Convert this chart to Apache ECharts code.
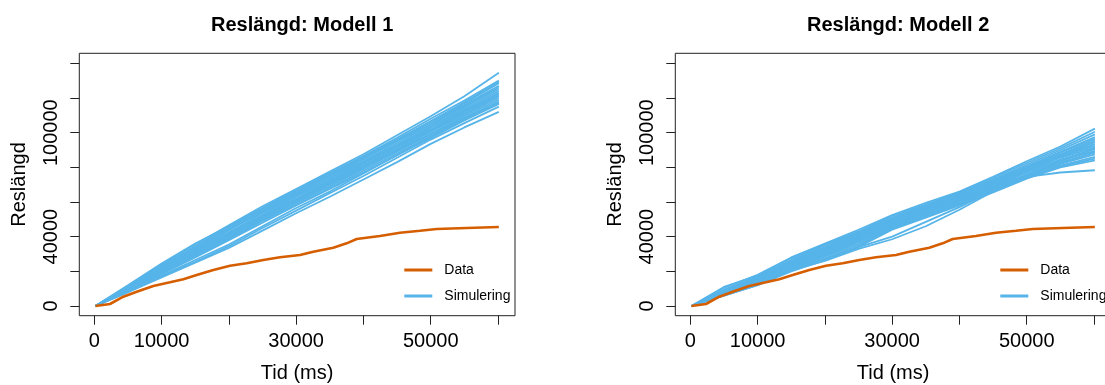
<!DOCTYPE html>
<html>
<head>
<meta charset="utf-8">
<script src="https://cdn.jsdelivr.net/npm/echarts@6/dist/echarts.min.js"></script>
<style>
  html, body { margin: 0; padding: 0; background: #fff; }
  #container { width: 1105px; height: 385px; }
</style>
</head>
<body>
<div id="container"></div>
<script>
// Tid (ms) for the simulated runs
var tid = [170, 5000, 10000, 15000, 20000, 25000, 30000, 35000, 40000, 45000, 50000, 55000, 60130];

// observed data (same in both panels)
var dataTid = [170, 2330, 4310, 6300, 8770, 11250, 13230, 15220, 17690, 20170, 22650, 25120,
  27600, 30570, 32550, 35520, 37510, 39000, 42460, 45440, 48410, 50890, 55350, 60130];
var dataResl = [0, 1150, 5360, 8250, 11540, 13670, 15400, 17880, 20770, 23250, 24630, 26540,
  28090, 29420, 31340, 33650, 36150, 38650, 40380, 42290, 43440, 44420, 44990, 45570];

// Modell 1 simulations
var simModell1 = [
  [0, 11500, 24000, 35500, 46500, 57500, 67500, 77500, 87500, 98500, 109500, 121000, 134500],
  [0, 12000, 24500, 36000, 46000, 56500, 67000, 76500, 86500, 97000, 108000, 118500, 130000],
  [0, 11000, 23000, 34500, 45500, 56000, 66000, 76000, 86000, 96000, 106500, 117000, 128500],
  [0, 10500, 22500, 33500, 44000, 54500, 65000, 75500, 85000, 95500, 106000, 116000, 127000],
  [0, 11000, 22000, 32500, 43500, 55000, 64500, 74000, 84500, 95000, 105000, 115500, 126000],
  [0, 10000, 21500, 33000, 44500, 54000, 64000, 73500, 83500, 94000, 104500, 115000, 125000],
  [0, 10500, 21000, 32000, 42500, 53500, 63500, 74000, 83000, 93000, 103500, 114000, 124000],
  [0, 9500, 20500, 31500, 42000, 52500, 63000, 72500, 82500, 92500, 103000, 113000, 123000],
  [0, 10000, 21000, 31000, 41500, 52000, 62000, 72000, 82000, 92500, 102000, 112500, 122500],
  [0, 9500, 20000, 31000, 41000, 51500, 61500, 71500, 81000, 91500, 101500, 112000, 121500],
  [0, 10000, 20500, 30500, 40500, 51000, 61000, 71000, 80500, 90500, 101000, 111000, 121000],
  [0, 9000, 19500, 30000, 40000, 50500, 60500, 70500, 80500, 90000, 100500, 110500, 120000],
  [0, 9500, 19500, 29500, 39500, 50000, 60000, 70000, 79500, 89500, 99500, 109500, 119000],
  [0, 9000, 19000, 29000, 39000, 49500, 59500, 69000, 79000, 89000, 99000, 108500, 118000],
  [0, 9000, 18500, 28500, 38500, 49000, 58500, 68000, 78000, 88000, 98000, 108000, 117500],
  [0, 8500, 18500, 28000, 38000, 48000, 58000, 67500, 77000, 87000, 97000, 107000, 116500],
  [0, 8500, 17500, 26500, 35500, 46000, 56500, 66000, 76500, 87000, 97500, 107500, 117000],
  [0, 8000, 17000, 25500, 34500, 45000, 55000, 65000, 75000, 85500, 96000, 105500, 115000],
  [0, 8000, 16500, 25000, 33500, 43500, 53500, 63000, 73000, 83000, 93500, 103000, 112000],
  [0, 11500, 23000, 34000, 45000, 55000, 65500, 75000, 85000, 95500, 106500, 117500, 129000]
];

// Modell 2 simulations
var simModell2 = [
  [0, 10500, 18000, 28000, 36000, 44000, 52500, 59500, 66000, 74500, 83500, 92000, 102300],
  [0, 11000, 17500, 27500, 35500, 43000, 52000, 58500, 65500, 74000, 82500, 91000, 100500],
  [0, 9500, 17000, 26500, 35000, 42500, 51000, 58000, 65000, 73000, 81500, 90000, 99000],
  [0, 9000, 16500, 26000, 34000, 42000, 50500, 57500, 64500, 72500, 80500, 89000, 97500],
  [0, 8500, 16000, 25500, 33500, 41500, 50000, 57000, 64000, 72000, 80000, 88500, 96500],
  [0, 9000, 16000, 25000, 33000, 41000, 49500, 56500, 63500, 71500, 79500, 87500, 95500],
  [0, 8000, 15500, 24500, 32500, 40500, 49000, 56000, 63000, 71000, 79000, 87000, 94500],
  [0, 8500, 15000, 24000, 32000, 40000, 48500, 55500, 62500, 70500, 78500, 86500, 93500],
  [0, 7500, 15000, 23500, 31500, 39500, 48000, 55000, 62000, 70000, 78000, 86000, 92500],
  [0, 8000, 14500, 23000, 31000, 39000, 47500, 54500, 61500, 69500, 77500, 85500, 91500],
  [0, 7000, 14000, 22500, 30500, 38500, 47000, 54000, 61000, 69000, 77000, 84500, 90500],
  [0, 7500, 14000, 22000, 30000, 38000, 46500, 53500, 60500, 68500, 76000, 84000, 89500],
  [0, 7000, 13500, 22000, 29500, 37500, 46000, 53000, 60000, 68000, 75500, 83000, 88500],
  [0, 6500, 13000, 21500, 29000, 37000, 45500, 52500, 59500, 67000, 75000, 82000, 87500],
  [0, 6500, 12500, 21000, 28500, 36000, 45000, 52000, 59000, 66500, 74500, 81000, 86000],
  [0, 6000, 12000, 20500, 27500, 35000, 44500, 51500, 58500, 66000, 74000, 80500, 85000],
  [0, 6000, 12000, 20000, 26500, 34000, 44000, 51000, 58000, 65500, 73500, 80000, 84000],
  [0, 6500, 12500, 20500, 26000, 33000, 38500, 46000, 55500, 66000, 75000, 82000, 89000],
  [0, 7000, 13000, 21000, 27000, 34000, 40000, 48500, 57000, 66500, 76000, 83500, 91000],
  [0, 8000, 14500, 23000, 30500, 38000, 46000, 53000, 60000, 67500, 74500, 77000, 78300]
];

var titles = ['Reslängd: Modell 1', 'Reslängd: Modell 2'];
var xTicks = [0, 10000, 20000, 30000, 40000, 50000, 60000];
var xLabels = [0, 10000, 30000, 50000];
var yTicks = [0, 20000, 40000, 60000, 80000, 100000, 120000, 140000];
var yLabels = [0, 40000, 100000];

var blue = '#56B4E9';
var orange = '#D55E00';
var font = '"Liberation Sans", Arial, Helvetica, sans-serif';

var dom = document.getElementById('container');
var myChart = echarts.init(dom, null, { renderer: 'canvas' });

var panelLeft = [79.3, 675.3];
var panelWidth = 435.7;

function plain(v) { return String(v); }

function makeX(i) {
  return {
    type: 'value', gridIndex: i,
    min: -2230, max: 62530,
    name: 'Tid (ms)', nameLocation: 'middle', nameGap: 48, nameMoveOverlap: false,
    nameTextStyle: { fontFamily: font, fontSize: 20, color: '#000' },
    axisLine: { show: false, onZero: false },
    splitLine: { show: false },
    axisTick: { show: true, length: 9, customValues: xTicks, lineStyle: { color: '#222' } },
    axisLabel: { customValues: xLabels, formatter: plain, margin: 16, fontFamily: font, fontSize: 20, color: '#000' }
  };
}

function makeY(i) {
  return {
    type: 'value', gridIndex: i,
    min: -5600, max: 145770,
    name: 'Reslängd', nameLocation: 'middle', nameGap: 50, nameRotate: 90, nameMoveOverlap: false,
    nameTextStyle: { fontFamily: font, fontSize: 20, color: '#000' },
    axisLine: { show: false, onZero: false },
    splitLine: { show: false },
    axisTick: { show: true, length: 9, customValues: yTicks, lineStyle: { color: '#222' } },
    axisLabel: { customValues: yLabels, formatter: plain, rotate: 90, margin: 18, fontFamily: font, fontSize: 20, color: '#000' }
  };
}

var series = [];
[simModell1, simModell2].forEach(function (sims, p) {
  sims.forEach(function (vals) {
    series.push({
      name: 'Simulering', type: 'line', xAxisIndex: p, yAxisIndex: p,
      symbol: 'none', silent: true,
      lineStyle: { color: blue, width: 1.8 },
      itemStyle: { color: blue },
      data: tid.map(function (t, k) { return [t, vals[k]]; })
    });
  });
});
[0, 1].forEach(function (p) {
  series.push({
    name: 'Data', type: 'line', xAxisIndex: p, yAxisIndex: p,
    symbol: 'none', silent: true,
    lineStyle: { color: orange, width: 2.6 },
    itemStyle: { color: orange },
    data: dataTid.map(function (t, k) { return [t, dataResl[k]]; })
  });
});

function makeLegend(i) {
  return {
    orient: 'vertical', left: panelLeft[i] + 325, top: 263,
    padding: 0,
    itemWidth: 28, itemHeight: 3, itemGap: 12,
    selectedMode: false,
    icon: 'rect',
    data: ['Data', 'Simulering'],
    textStyle: { fontFamily: font, fontSize: 14, color: '#000', padding: [0, 0, 0, 7] }
  };
}

var option = {
  animation: false,
  backgroundColor: '#fff',
  title: titles.map(function (t, i) {
    return {
      text: t, left: panelLeft[i] + panelWidth / 2, top: 10, textAlign: 'center',
      textStyle: { fontFamily: font, fontSize: 20, fontWeight: 'bold', color: '#000' }
    };
  }),
  grid: [0, 1].map(function (i) {
    return {
      left: panelLeft[i], top: 53.3, width: panelWidth, height: 262.4,
      outerBoundsMode: 'none', containLabel: false,
      show: true, borderColor: '#222', borderWidth: 1, backgroundColor: 'transparent'
    };
  }),
  legend: [makeLegend(0), makeLegend(1)],
  xAxis: [makeX(0), makeX(1)],
  yAxis: [makeY(0), makeY(1)],
  series: series
};

myChart.setOption(option);
</script>
</body>
</html>
